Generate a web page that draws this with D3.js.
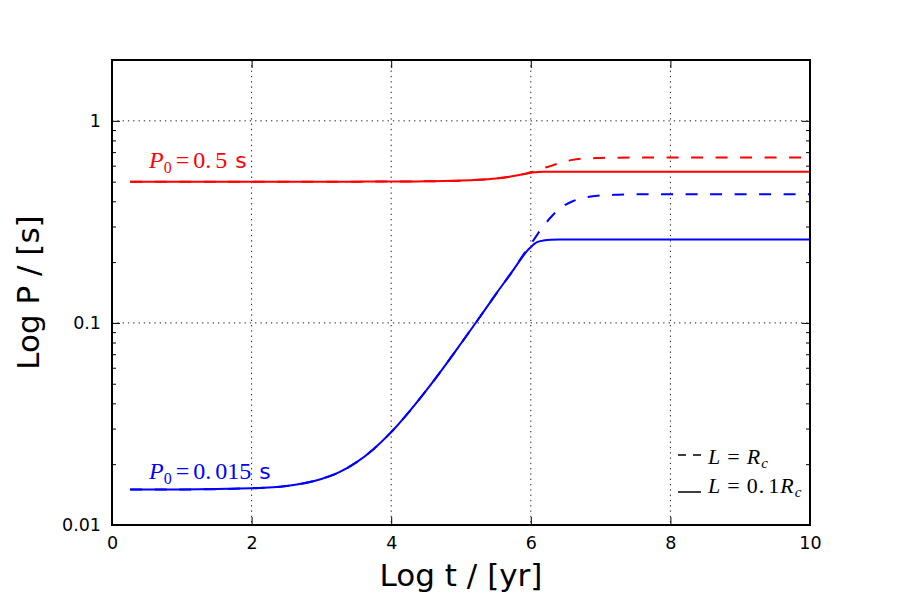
<!DOCTYPE html>
<html>
<head>
<meta charset="utf-8">
<script src="https://cdn.jsdelivr.net/npm/d3@7"></script>
<style>
  body { margin: 0; background: #fff; }
  #chart { width: 900px; height: 600px; }
</style>
</head>
<body>
<div id="chart"></div>
<script>
// log t / yr sample points shared by all four curves
const logT = [0.26, 1, 2, 2.5, 3, 3.25, 3.5, 3.75, 4, 4.25, 4.5, 4.75, 5, 5.25, 5.5, 5.75,
              5.85, 5.95, 6, 6.05, 6.1, 6.2, 6.3, 6.4, 6.5, 6.6, 6.75, 7, 7.25, 7.5, 8, 9, 10];

// P0 = 0.5 s
const redSolid = [0.500, 0.500, 0.500, 0.500, 0.5001, 0.5001, 0.5002, 0.5003, 0.5006, 0.5011, 0.5019, 0.5034,
                  0.506, 0.5106, 0.5187, 0.5328, 0.541, 0.549, 0.553, 0.556, 0.558, 0.5595, 0.560, 0.560,
                  0.560, 0.560, 0.560, 0.560, 0.560, 0.560, 0.560, 0.560, 0.560];
const redDashed = [0.500, 0.500, 0.500, 0.500, 0.5001, 0.5001, 0.5002, 0.5003, 0.5006, 0.5011, 0.5019, 0.5034,
                   0.506, 0.5106, 0.5187, 0.5328, 0.541, 0.5511, 0.5568, 0.5636, 0.5709, 0.586, 0.600, 0.616,
                   0.630, 0.641, 0.650, 0.655, 0.657, 0.658, 0.658, 0.658, 0.658];

// P0 = 0.015 s
const blueSolid = [0.0150, 0.0150, 0.0152, 0.0156, 0.0169, 0.0182, 0.0204, 0.0238, 0.0288, 0.0361, 0.0462, 0.0601,
                   0.0791, 0.1046, 0.1389, 0.1830, 0.205, 0.228, 0.237, 0.246, 0.252, 0.2565, 0.258, 0.2585,
                   0.2585, 0.2585, 0.2585, 0.2585, 0.2585, 0.2585, 0.2585, 0.2585, 0.2585];
const blueDashed = [0.0150, 0.0150, 0.0152, 0.0156, 0.0169, 0.0182, 0.0204, 0.0238, 0.0288, 0.0361, 0.0462, 0.0601,
                    0.0791, 0.1046, 0.1389, 0.1830, 0.2067, 0.232, 0.2456, 0.260, 0.276, 0.307, 0.337, 0.365,
                    0.385, 0.400, 0.415, 0.427, 0.431, 0.433, 0.433, 0.433, 0.433];

const xTicks = [0, 2, 4, 6, 8, 10];
const yTicks = [0.01, 0.1, 1];
const yTickLabels = ["0.01", "0.1", "1"];

const width = 900, height = 600;
const margin = { top: 60, right: 90, bottom: 75, left: 112 };

const serif = "'Liberation Serif', 'DejaVu Serif', serif";
const sans = "'DejaVu Sans', sans-serif";

const svg = d3.select("#chart")
    .append("svg")
    .attr("width", width)
    .attr("height", height)
    .attr("viewBox", [0, 0, width, height]);

const xScale = d3.scaleLinear()
    .domain([0, 10])
    .range([margin.left, width - margin.right]);

const yScale = d3.scaleLog()
    .domain([0.01, 2])
    .range([height - margin.bottom, margin.top]);

// minor ticks 2..9 per decade
const minorTicks = [];
[0.01, 0.1, 1].forEach(d => {
    for (let k = 2; k <= 9; k++) {
        const v = d * k;
        if (v < 2) minorTicks.push(v);
    }
});

// grid
const grid = svg.append("g")
    .attr("stroke", "#000")
    .attr("stroke-width", 0.9)
    .attr("stroke-dasharray", "1.3,4");
grid.selectAll("line.gx")
    .data(xTicks.slice(1, -1))
    .join("line")
    .attr("x1", d => xScale(d)).attr("x2", d => xScale(d))
    .attr("y1", margin.top).attr("y2", height - margin.bottom);
grid.selectAll("line.gy")
    .data(yTicks.slice(1))
    .join("line")
    .attr("y1", d => yScale(d)).attr("y2", d => yScale(d))
    .attr("x1", margin.left).attr("x2", width - margin.right);

// curves
const line = d3.line()
    .x(d => xScale(d[0]))
    .y(d => yScale(d[1]))
    .curve(d3.curveMonotoneX);

const series = [
    { values: redDashed, color: "#ff0000", dash: "12,12.5" },
    { values: blueDashed, color: "#0000ff", dash: "12,12.5" },
    { values: redSolid, color: "#ff0000", dash: null },
    { values: blueSolid, color: "#0000ff", dash: null }
];

svg.append("g")
    .selectAll("path")
    .data(series)
    .join("path")
    .attr("fill", "none")
    .attr("stroke", d => d.color)
    .attr("stroke-width", 2)
    .attr("stroke-dasharray", d => d.dash)
    .attr("d", d => line(logT.map((t, i) => [t, d.values[i]])));

// axes, ticks pointing inward
const drawAxes = () => {
    const fmtY = d => yTickLabels[yTicks.indexOf(d)];

    svg.append("g")
        .attr("transform", `translate(0,${height - margin.bottom})`)
        .call(d3.axisBottom(xScale).tickValues(xTicks).tickSize(-8).tickPadding(12).tickFormat(d3.format("d")))
        .call(g => g.select(".domain").remove())
        .call(g => g.selectAll("line").attr("stroke-width", 1))
        .call(g => g.selectAll("text").attr("font-family", sans).attr("font-size", 17.5).attr("fill", "#000"));

    svg.append("g")
        .attr("transform", `translate(0,${margin.top})`)
        .call(d3.axisTop(xScale).tickValues(xTicks).tickSize(-8).tickFormat(""))
        .call(g => g.select(".domain").remove());

    svg.append("g")
        .attr("transform", `translate(${margin.left},0)`)
        .call(d3.axisLeft(yScale).tickValues(yTicks).tickSize(-8).tickPadding(11).tickFormat(fmtY))
        .call(g => g.select(".domain").remove())
        .call(g => g.selectAll("text").attr("font-family", sans).attr("font-size", 17.5).attr("fill", "#000"));

    svg.append("g")
        .attr("transform", `translate(${margin.left},0)`)
        .call(d3.axisLeft(yScale).tickValues(minorTicks).tickSize(-4).tickFormat(""))
        .call(g => g.select(".domain").remove());

    svg.append("g")
        .attr("transform", `translate(${width - margin.right},0)`)
        .call(d3.axisRight(yScale).tickValues(yTicks).tickSize(-8).tickFormat(""))
        .call(g => g.select(".domain").remove());

    svg.append("g")
        .attr("transform", `translate(${width - margin.right},0)`)
        .call(d3.axisRight(yScale).tickValues(minorTicks).tickSize(-4).tickFormat(""))
        .call(g => g.select(".domain").remove());

    // frame
    svg.append("rect")
        .attr("x", margin.left)
        .attr("y", margin.top)
        .attr("width", width - margin.left - margin.right)
        .attr("height", height - margin.top - margin.bottom)
        .attr("fill", "none")
        .attr("stroke", "#000")
        .attr("stroke-width", 2);

    svg.append("text")
        .attr("x", (margin.left + width - margin.right) / 2)
        .attr("y", 586)
        .attr("text-anchor", "middle")
        .attr("font-family", sans)
        .attr("font-size", 31)
        .text("Log t / [yr]");

    svg.append("text")
        .attr("transform", `translate(39,${(margin.top + height - margin.bottom) / 2}) rotate(-90)`)
        .attr("text-anchor", "middle")
        .attr("font-family", sans)
        .attr("font-size", 31)
        .text("Log P / [s]");
};
drawAxes();

// P0 labels: italic P, subscript 0, serif number, sans "s"
const p0Label = (x, y, intPart, fracPart, color) => {
    const t = svg.append("text")
        .attr("x", x).attr("y", y)
        .attr("fill", color)
        .attr("font-size", 24)
        .attr("font-family", serif);
    t.append("tspan").attr("font-style", "italic").text("P");
    t.append("tspan").attr("font-size", 16).attr("dy", 5).text("0");
    t.append("tspan").attr("dy", -5).attr("dx", 4).text("=");
    t.append("tspan").attr("dx", 4).text(intPart);
    t.append("tspan").attr("dx", 4).text(fracPart);
    t.append("tspan").attr("font-family", sans).attr("font-size", 22).attr("dx", 8).text("s");
};
p0Label(xScale(0.53), 167.5, "0.", "5", "#ff0000");
p0Label(xScale(0.53), 479, "0.", "015", "#0000ff");

// legend
const legend = svg.append("g");
const legendItems = [
    { dash: "8,7", y: 455 },
    { dash: null, y: 492 }
];
legend.selectAll("line")
    .data(legendItems)
    .join("line")
    .attr("x1", 678).attr("x2", 701)
    .attr("y1", d => d.y).attr("y2", d => d.y)
    .attr("stroke", "#000")
    .attr("stroke-width", 1.5)
    .attr("stroke-dasharray", d => d.dash);

const lText = (y, coef) => {
    const t = legend.append("text")
        .attr("x", 708).attr("y", y)
        .attr("font-size", 22)
        .attr("letter-spacing", 1)
        .attr("font-family", serif);
    t.append("tspan").attr("font-style", "italic").text("L");
    t.append("tspan").attr("dx", 6).text("=");
    if (coef) t.append("tspan").attr("dx", 6).text(coef.slice(0, 2));
    if (coef) t.append("tspan").attr("dx", 3).text(coef.slice(2));
    t.append("tspan").attr("font-style", "italic").attr("dx", coef ? 0 : 6).text("R");
    t.append("tspan").attr("font-style", "italic").attr("font-size", 15).attr("dy", 4).text("c");
};
lText(464, null);
lText(493, "0.1");
</script>
</body>
</html>
